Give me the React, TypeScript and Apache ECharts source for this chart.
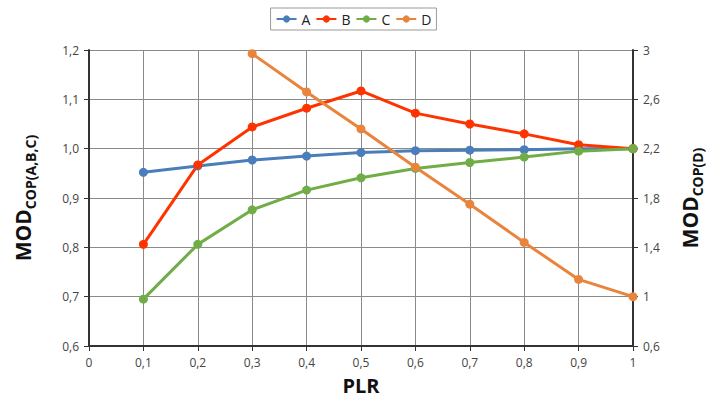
import React, { useEffect, useRef } from "react";
import * as echarts from "echarts";

const plr = [0.1, 0.2, 0.3, 0.4, 0.5, 0.6, 0.7, 0.8, 0.9, 1.0];
const seriesA = [0.952, 0.965, 0.977, 0.985, 0.992, 0.996, 0.997, 0.998, 1.0, 1.0];
const seriesB = [0.806, 0.967, 1.044, 1.082, 1.117, 1.072, 1.05, 1.03, 1.008, 1.0];
const seriesC = [0.695, 0.806, 0.876, 0.916, 0.941, 0.96, 0.972, 0.983, 0.995, 1.0];
const plrD = [0.3, 0.4, 0.5, 0.6, 0.7, 0.8, 0.9, 1.0];
const seriesD = [2.97, 2.66, 2.36, 2.05, 1.75, 1.44, 1.14, 1.0];

const font = "'Open Sans', 'Liberation Sans', sans-serif";

const fmt = (v: number, fixed?: number) => {
  const r = Math.round(v * 100) / 100;
  const s = fixed !== undefined ? r.toFixed(fixed) : String(r);
  return s.replace(".", ",");
};

export default function App() {
  const ref = useRef<HTMLDivElement>(null);
  useEffect(() => {
    if (!ref.current) return;
    const chart = echarts.init(ref.current, null, { renderer: "svg" });
    const mk = (name: string, color: string, xs: number[], ys: number[], yAxisIndex = 0) => ({
      name,
      type: "line",
      yAxisIndex,
      data: xs.map((x, i) => [x, ys[i]]),
      symbol: "circle",
      symbolSize: 9,
      lineStyle: { color, width: 3 },
      itemStyle: { color },
      z: 3,
    });
    const titleRich = {
      a: { fontSize: 21, fontWeight: "bold", color: "#111", fontFamily: font, verticalAlign: "bottom" },
      b: { fontSize: 14, fontWeight: "bold", color: "#111", fontFamily: font, verticalAlign: "bottom", padding: [0, 0, -4, 0] },
    };
    chart.setOption({
      animation: false,
      backgroundColor: "#fff",
      textStyle: { fontFamily: font },
      legend: {
        top: 8,
        left: "center",
        itemWidth: 20,
        itemHeight: 9,
        itemGap: 5,
        padding: [4, 5],
        borderColor: "#9a9a9a",
        borderWidth: 1,
        textStyle: { fontSize: 14, color: "#222", fontFamily: font },
        data: ["A", "B", "C", "D"],
      },
      grid: { left: 89, right: 74, top: 50, bottom: 57, outerBoundsMode: "none", containLabel: false },
      xAxis: {
        type: "value",
        min: 0,
        max: 1,
        interval: 0.1,
        name: "PLR",
        nameLocation: "middle",
        nameGap: 29,
        nameTextStyle: { fontSize: 20, fontWeight: "bold", color: "#111", fontFamily: font },
        axisLine: { lineStyle: { color: "#333", width: 2 } },
        axisTick: { show: true, length: 5, lineStyle: { color: "#333" } },
        axisLabel: { color: "#444", fontSize: 12, margin: 10, formatter: (v: number) => fmt(v) },
        splitLine: { show: true, lineStyle: { color: "#8a8a8a", width: 1 } },
      },
      yAxis: [
        {
          type: "value",
          min: 0.6,
          max: 1.2,
          interval: 0.1,
          position: "left",
          name: "{a|MOD}{b|COP(A,B,C)}",
          nameLocation: "middle",
          nameRotate: 90,
          nameGap: 56,
          nameTextStyle: { rich: titleRich },
          axisLine: { show: true, lineStyle: { color: "#333", width: 2 } },
          axisTick: { show: true, length: 5, lineStyle: { color: "#333" } },
          axisLabel: { color: "#444", fontSize: 12, margin: 10, formatter: (v: number) => fmt(v, 1) },
          splitLine: { show: true, lineStyle: { color: "#8a8a8a", width: 1 } },
        },
        {
          type: "value",
          min: 0.6,
          max: 3,
          interval: 0.4,
          position: "right",
          name: "{a|MOD}{b|COP(D)}",
          nameLocation: "middle",
          nameRotate: 90,
          nameGap: 46,
          nameTextStyle: { rich: titleRich },
          axisLine: { show: true, lineStyle: { color: "#333", width: 2 } },
          axisTick: { show: true, length: 5, lineStyle: { color: "#333" } },
          axisLabel: { color: "#444", fontSize: 12, margin: 10, formatter: (v: number) => fmt(v) },
          splitLine: { show: false },
        },
      ],
      series: [
        mk("A", "#4a7ebb", plr, seriesA),
        mk("B", "#ff3300", plr, seriesB),
        mk("C", "#70ad47", plr, seriesC),
        mk("D", "#e8843c", plrD, seriesD, 1),
      ],
    });
    return () => chart.dispose();
  }, []);
  return <div ref={ref} style={{ width: 707, height: 403, position: "absolute", left: 0, top: 0 }} />;
}
